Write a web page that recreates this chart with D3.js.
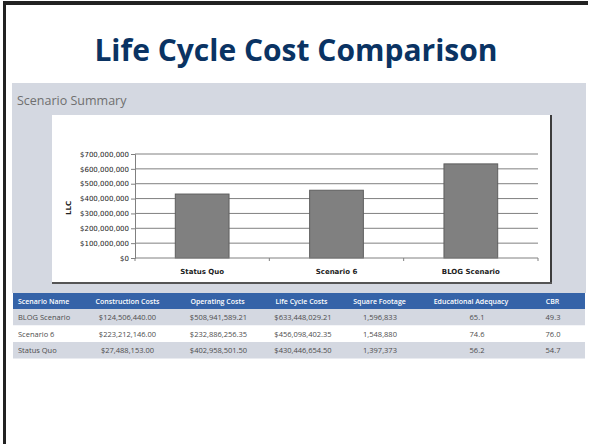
<!DOCTYPE html>
<html>
<head>
<meta charset="utf-8">
<script src="https://cdn.jsdelivr.net/npm/d3@7"></script>
<style>
  body { margin: 0; background: #fff; }
  svg { display: block; }
</style>
</head>
<body>
<div id="chart"></div>
<script>
// table rows (top to bottom as in the summary table)
var scenarios = ['BLOG Scenario', 'Scenario 6', 'Status Quo'];
var constructionCosts = [124506440.00, 223212146.00, 27488153.00];
var operatingCosts = [508941589.21, 232886256.35, 402958501.50];
var lifeCycleCosts = [633448029.21, 456098402.35, 430446654.50];
var squareFootage = [1596833, 1548880, 1397373];
var eduAdequacy = [65.1, 74.6, 56.2];
var cbr = [49.3, 76.0, 54.7];

// bar chart order
var barCategories = ['Status Quo', 'Scenario 6', 'BLOG Scenario'];
var yTicks = [0, 100000000, 200000000, 300000000, 400000000, 500000000, 600000000, 700000000];

var headers = ['Scenario Name', 'Construction Costs', 'Operating Costs', 'Life Cycle Costs',
  'Square Footage', 'Educational Adequacy', 'CBR'];

var W = 589, H = 444;
var svg = d3.select('#chart').append('svg').attr('width', W).attr('height', H);

svg.append('rect').attr('width', W).attr('height', H).attr('fill', '#fff');

// slide frame (top + left dark edge)
svg.append('rect').attr('x', 3).attr('y', 1).attr('width', W - 4).attr('height', 4).attr('fill', '#222');
svg.append('rect').attr('x', 3).attr('y', 1).attr('width', 3).attr('height', H).attr('fill', '#222');

// title
svg.append('text')
  .attr('x', 296).attr('y', 61)
  .attr('text-anchor', 'middle')
  .style('font-family', 'Open Sans')
  .style('font-weight', 700)
  .style('font-size', '30px')
  .attr('fill', '#0a3363')
  .text('Life Cycle Cost Comparison');

// gray panel
var panelColor = '#d4d8e1';
svg.append('rect').attr('x', 12).attr('y', 83).attr('width', 574).attr('height', 210).attr('fill', panelColor);

svg.append('text')
  .attr('x', 17).attr('y', 105)
  .style('font-family', 'Open Sans')
  .style('font-size', '12.5px')
  .attr('fill', '#6f6f6f')
  .text('Scenario Summary');

// chart box with shadow edge
svg.append('rect').attr('x', 52).attr('y', 115).attr('width', 499).attr('height', 168).attr('fill', '#fff');
svg.append('rect').attr('x', 550).attr('y', 115).attr('width', 2).attr('height', 169).attr('fill', '#3c3c3c');
svg.append('rect').attr('x', 52).attr('y', 282).attr('width', 500).attr('height', 2).attr('fill', '#555');

var plot = { left: 135, right: 538, top: 154, bottom: 258 };

var x = d3.scaleBand()
  .domain(barCategories)
  .range([plot.left, plot.right])
  .paddingInner(0.6)
  .paddingOuter(0.3);

var y = d3.scaleLinear()
  .domain([0, 700000000])
  .range([plot.bottom, plot.top]);

var money0 = function (v) { return '$' + d3.format(',')(v); };

// gridlines
svg.append('g')
  .selectAll('line')
  .data(yTicks.slice(1))
  .enter().append('line')
  .attr('x1', plot.left).attr('x2', plot.right)
  .attr('y1', function (d) { return y(d); })
  .attr('y2', function (d) { return y(d); })
  .attr('stroke', '#808080')
  .attr('stroke-width', 1);

// bars
svg.append('g')
  .selectAll('rect')
  .data(barCategories)
  .enter().append('rect')
  .attr('x', function (d) { return x(d); })
  .attr('width', x.bandwidth())
  .attr('y', function (d) { return y(lifeCycleCosts[scenarios.indexOf(d)]); })
  .attr('height', function (d) { return y(0) - y(lifeCycleCosts[scenarios.indexOf(d)]); })
  .attr('fill', '#808080')
  .attr('stroke', '#5e5e5e')
  .attr('stroke-width', 1);

// y axis
var yAxis = svg.append('g')
  .attr('transform', 'translate(' + plot.left + ',0)')
  .call(d3.axisLeft(y).tickValues(yTicks).tickFormat(money0).tickSize(4).tickPadding(2));
yAxis.select('.domain').attr('stroke', '#808080');
yAxis.selectAll('.tick line').attr('stroke', '#808080');
yAxis.selectAll('text')
  .style('font-family', 'DejaVu Sans')
  .style('font-size', '7px')
  .attr('fill', '#1a1a1a');

// x axis: ticks at category boundaries
var xAxisG = svg.append('g').attr('transform', 'translate(0,' + plot.bottom + ')');
xAxisG.append('line')
  .attr('x1', plot.left).attr('x2', plot.right)
  .attr('stroke', '#808080');
var step = x.step();
xAxisG.selectAll('line.b')
  .data(d3.range(barCategories.length + 1))
  .enter().append('line')
  .attr('class', 'b')
  .attr('x1', function (i) { return plot.left + i * step; })
  .attr('x2', function (i) { return plot.left + i * step; })
  .attr('y1', 0).attr('y2', 3)
  .attr('stroke', '#808080');
xAxisG.selectAll('text')
  .data(barCategories)
  .enter().append('text')
  .attr('x', function (d) { return x(d) + x.bandwidth() / 2; })
  .attr('y', 16)
  .attr('text-anchor', 'middle')
  .style('font-family', 'DejaVu Sans')
  .style('font-weight', 700)
  .style('font-size', '7px')
  .attr('fill', '#222')
  .text(function (d) { return d; });

svg.append('text')
  .attr('transform', 'translate(71,208) rotate(-90)')
  .attr('text-anchor', 'middle')
  .style('font-family', 'DejaVu Sans')
  .style('font-weight', 700)
  .style('font-size', '7px')
  .attr('fill', '#222')
  .text('LLC');

// summary table
var tableX = 13, tableW = 572, headTop = 293, headH = 16, rowH = 16.5;
var headX = [18, 127.5, 217.5, 301.5, 379.5, 471, 552.5];
var cellX = [18, 127.5, 218.5, 303, 380, 477, 553];
var money2 = function (v) { return '$' + d3.format(',.2f')(v); };

svg.append('rect').attr('x', tableX).attr('y', headTop).attr('width', tableW).attr('height', headH).attr('fill', '#3563a8');

svg.append('g')
  .selectAll('text')
  .data(headers)
  .enter().append('text')
  .attr('x', function (d, i) { return headX[i]; })
  .attr('y', headTop + 11)
  .attr('text-anchor', function (d, i) { return i === 0 ? 'start' : 'middle'; })
  .style('font-family', 'Open Sans')
  .style('font-weight', 600)
  .style('font-size', '7px')
  .attr('fill', '#fff')
  .text(function (d) { return d; });

var rows = svg.append('g')
  .selectAll('g')
  .data(scenarios)
  .enter().append('g')
  .attr('transform', function (d, i) { return 'translate(0,' + (headTop + headH + i * rowH) + ')'; });

rows.append('rect')
  .attr('x', tableX).attr('width', tableW).attr('height', rowH)
  .attr('fill', function (d, i) { return i % 2 === 0 ? panelColor : '#fff'; });

rows.each(function (d, i) {
  var cells = [d, money2(constructionCosts[i]), money2(operatingCosts[i]), money2(lifeCycleCosts[i]),
    d3.format(',')(squareFootage[i]), d3.format('.1f')(eduAdequacy[i]), d3.format('.1f')(cbr[i])];
  d3.select(this).selectAll('text')
    .data(cells)
    .enter().append('text')
    .attr('x', function (c, j) { return cellX[j]; })
    .attr('y', 11)
    .attr('text-anchor', function (c, j) { return j === 0 ? 'start' : 'middle'; })
    .style('font-family', 'Open Sans')
    .style('font-size', '7.5px')
    .attr('fill', '#4d4d4d')
    .text(function (c) { return c; });
});
</script>
</body>
</html>
